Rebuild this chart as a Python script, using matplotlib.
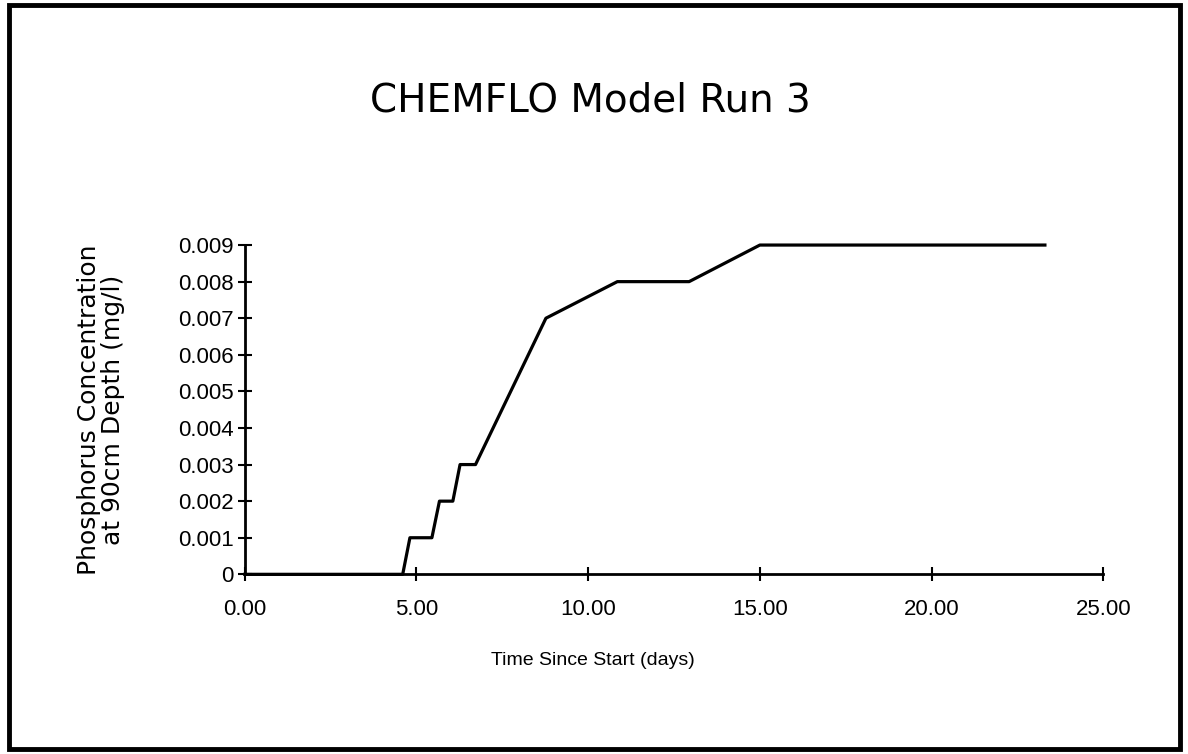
import matplotlib
matplotlib.use("Agg")
import matplotlib.pyplot as plt
from matplotlib.patches import Rectangle

# CHEMFLO run 3 - phosphorus breakthrough at 90cm
days = [0.0, 4.60, 4.81, 5.45, 5.67, 6.06, 6.27, 6.72, 8.77, 10.85, 12.94, 15.0, 23.3]
conc = [0.0, 0.0, 0.001, 0.001, 0.002, 0.002, 0.003, 0.003, 0.007, 0.008, 0.008, 0.009, 0.009]

x_ticks = [0, 5, 10, 15, 20, 25]
y_ticks = [0.000, 0.001, 0.002, 0.003, 0.004, 0.005, 0.006, 0.007, 0.008, 0.009]
y_tick_labels = ["0", "0.001", "0.002", "0.003", "0.004", "0.005", "0.006", "0.007", "0.008", "0.009"]

tick_font = ["Liberation Sans", "DejaVu Sans"]

fig = plt.figure(figsize=(11.88, 7.54), dpi=100)
fig.patches.append(Rectangle((0.0075, 0.006), 0.986, 0.988, transform=fig.transFigure,
                             fill=False, edgecolor="black", linewidth=3.5))

ax = fig.add_axes([0.206, 0.2383, 0.7227, 0.4367])
ax.plot(days, conc, color="black", linewidth=2.3, clip_on=False)

ax.set_xlim(0, 25)
ax.set_ylim(0, 0.009)
ax.set_xticks(x_ticks)
ax.set_xticklabels([f"{t:.2f}" for t in x_ticks], fontsize=16, family=tick_font)
ax.set_yticks(y_ticks)
ax.set_yticklabels(y_tick_labels, fontsize=16, family=tick_font)

for side in ["top", "right"]:
    ax.spines[side].set_visible(False)
for side in ["left", "bottom"]:
    ax.spines[side].set_linewidth(2)
ax.tick_params(axis="both", direction="inout", length=10, width=1.5, pad=3)
ax.tick_params(axis="x", pad=13)

ax.set_xlabel("Time Since Start (days)", fontsize=14, family=tick_font)
ax.xaxis.set_label_coords(0.406, -0.235)
ax.set_ylabel("Phosphorus Concentration\nat 90cm Depth (mg/l)", fontsize=18,
              linespacing=1.0, labelpad=38)

fig.text(0.497, 0.867, "CHEMFLO Model Run 3", ha="center", va="center", fontsize=28)

fig.savefig("out.png", dpi=100)
